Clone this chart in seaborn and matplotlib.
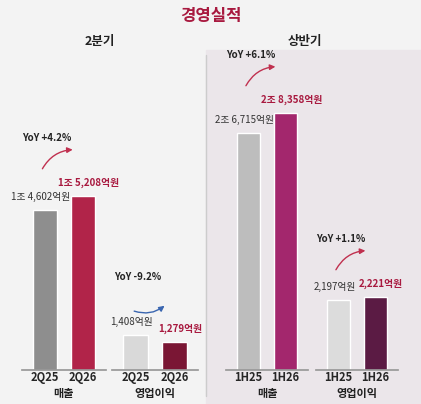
import matplotlib
matplotlib.use("Agg")
import matplotlib.pyplot as plt
import seaborn as sns
import pandas as pd
from matplotlib.patches import FancyArrowPatch

sns.set_theme(style="white")
plt.rcParams['font.family'] = ['Noto Sans CJK KR', 'DejaVu Sans']

groups = ["매출", "영업이익", "매출", "영업이익"]
periods = [["2Q25", "2Q26"], ["2Q25", "2Q26"], ["1H25", "1H26"], ["1H25", "1H26"]]
values = [[14602, 15208], [1408, 1279], [26715, 28358], [2197, 2221]]
labels = [["1조 4,602억원", "1조 5,208억원"], ["1,408억원", "1,279억원"],
          ["2조 6,715억원", "2조 8,358억원"], ["2,197억원", "2,221억원"]]
yoy = ["YoY +4.2%", "YoY -9.2%", "YoY +6.1%", "YoY +1.1%"]
panel_titles = ["2분기", "상반기"]

W, H = 421, 404
fig = plt.figure(figsize=(W/100, H/100), dpi=100)
fig.patch.set_facecolor("#f3f3f3")
bg = plt.Rectangle((206/W, 0), 1-206/W, 1-50/H, transform=fig.transFigure,
                   color="#ebe6ea", zorder=-5)
fig.add_artist(bg)
fig.add_artist(plt.Line2D([206/W, 206/W], [0.02, 1-55/H], color="#cccccc", lw=1, zorder=-4))

fig.text(0.5, 1-16/H, "경영실적", ha="center", va="center", fontsize=12, fontweight="bold", color="#a8193f")
fig.text(100/W, 1-42/H, panel_titles[0], ha="center", va="center", fontsize=9, fontweight="bold", color="#222")
fig.text(305/W, 1-42/H, panel_titles[1], ha="center", va="center", fontsize=9, fontweight="bold", color="#222")

ax_x = [(22, 106), (112, 198), (226, 308), (316, 398)]
ylims = [(7676, 21096), (760, 6500), (7241, 32711), (1637, 4117)]
colors = [["#8e8e8e", "#b12449"], ["#d9d9d9", "#7a1634"], ["#bdbdbd", "#a3276d"], ["#dcdcdc", "#5b1b44"]]
arrow_cols = ["#c0304f", "#3a66b0", "#c0304f", "#c0304f"]
base, top = 370, 60

for i in range(4):
    x0, x1 = ax_x[i]
    ax = fig.add_axes([x0/W, 1-base/H, (x1-x0)/W, (base-top)/H])
    ax.set_facecolor("none")
    df = pd.DataFrame({"p": periods[i], "v": values[i]})
    sns.barplot(data=df, x="p", y="v", hue="p", palette=colors[i], ax=ax, width=0.62,
                legend=False, saturation=1)
    ax.set_ylim(*ylims[i])
    ax.set_yticks([])
    ax.set_xlabel(groups[i], fontsize=8, fontweight="bold", color="#222", labelpad=2)
    ax.set_ylabel("")
    ax.tick_params(axis="x", labelsize=8, pad=1, length=0)
    for t in ax.get_xticklabels():
        t.set_fontweight("bold")
    for s in ax.spines.values():
        s.set_visible(False)
    ax.spines["bottom"].set_visible(True)
    ax.spines["bottom"].set_color("#999")
    span = ylims[i][1] - ylims[i][0]
    for j in range(2):
        v = values[i][j]
        off = span * 0.025
        ax.text(j + (-0.1 if j == 0 else 0.15), v + off, labels[i][j], ha="center", va="bottom",
                fontsize=7, color="#333" if j == 0 else "#a8193f",
                fontweight="normal" if j == 0 else "bold")
    vm = max(values[i])
    ytxt = vm + span * 0.17
    ax.text(0.05, ytxt, yoy[i], ha="center", va="bottom", fontsize=7, fontweight="bold", color="#222")
    arr = FancyArrowPatch((-0.1, vm + span*0.08), (0.8, vm + span*(0.15 if i != 1 else 0.1)),
                          connectionstyle="arc3,rad=-0.3" if i != 1 else "arc3,rad=0.3",
                          arrowstyle="-|>", mutation_scale=8, color=arrow_cols[i], lw=1)
    ax.add_patch(arr)
    ax.set_xlim(-0.6, 1.6)

fig.savefig("out.png", dpi=100, facecolor=fig.get_facecolor())
